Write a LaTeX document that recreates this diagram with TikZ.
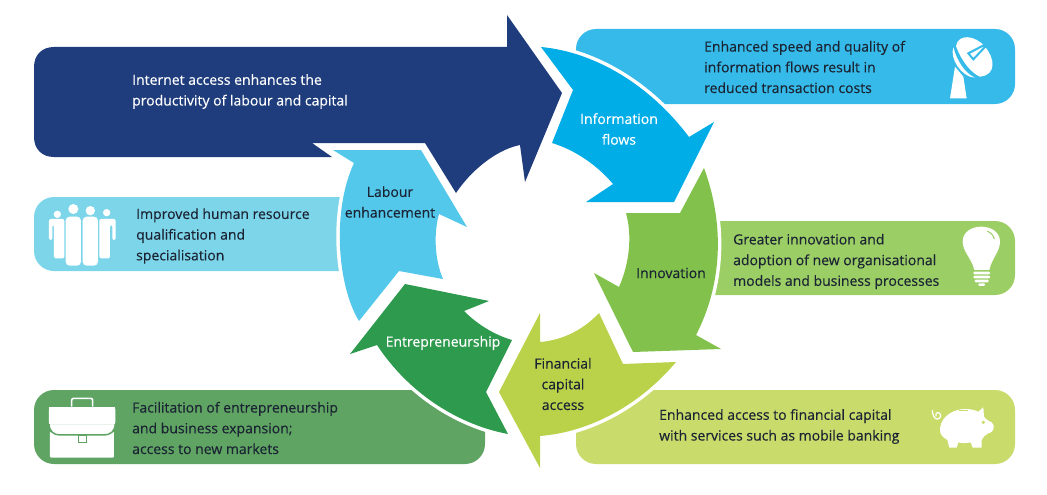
\documentclass[tikz,border=0pt]{standalone}
\usepackage{fontspec}
\newfontfamily\labelfont[FakeBold=0.3]{Open Sans}
\definecolor{capitalblue}{HTML}{1F3D7C}
\definecolor{infoarrow}{HTML}{00ADE6}
\definecolor{infobox}{HTML}{35BAE9}
\definecolor{innovarrow}{HTML}{82C24C}
\definecolor{innovbox}{HTML}{9CCE66}
\definecolor{finarrow}{HTML}{BAD24A}
\definecolor{finbox}{HTML}{C9DB6B}
\definecolor{entarrow}{HTML}{2E9A4E}
\definecolor{entbox}{HTML}{5FA463}
\definecolor{labarrow}{HTML}{53C8EB}
\definecolor{labbox}{HTML}{7DD5EA}
\definecolor{inkdark}{HTML}{1B2433}
\tikzset{
	wheelarrow/.style={preaction={draw=white, line width=7pt, line join=round}},
	panel/.style={rounded corners=20pt},
	paneltext/.style={anchor=west, align=left, text=inkdark, font=\labelfont\fontsize{14}{20.7}\selectfont, inner sep=0pt},
	wheeltext/.style={align=center, text=inkdark, font=\labelfont\fontsize{14}{20.7}\selectfont, inner sep=0pt},
	cropped/.style={x=0.3333pt, y=-0.3333pt},
}
\begin{document}
\begin{tikzpicture}[x=1pt, y=-1pt]
	\useasboundingbox (0,0) rectangle (1047,495);
	% panels behind the wheel
	\fill[infobox, panel] (576,29) rectangle (1015,104);
	\fill[innovbox, panel] (680,221) rectangle (1015,295);
	\fill[finbox, panel] (576,390) rectangle (1015,464);
	\fill[entbox, panel] (34,390) rectangle (485,464);
	\fill[labbox, panel] (34,197) rectangle (370,271);
	% wheel
	\fill[capitalblue, wheelarrow] (312,143) -- (332,157) -- (54,157) .. controls (42,157) and (34,149) .. (34,137) -- (34,67) .. controls (34,55) and (42,47) .. (54,47) -- (507,47) -- (507,15) -- (562,93) -- (525,182) -- (520,145) .. controls (495,150) and (470,172) .. (456,193) -- (425,143) -- cycle;
	\fill[labarrow, wheelarrow] (359,321) .. controls (337,285) and (332,210) .. (354,163) -- (333,150) -- (421,150) -- (467,227) -- (439,214) .. controls (434,232) and (434,258) .. (443,279) -- (399,271) -- cycle;
	\fill[infoarrow, wheelarrow] (541,47) .. controls (595,52) and (650,85) .. (689,137) -- (714,122) -- (674,202) -- (586,202) -- (613,184) .. controls (597,165) and (575,150) .. (552,143) -- (573,90) -- cycle;
	\fill[innovarrow, wheelarrow] (704,168) .. controls (725,225) and (722,285) .. (696,335) -- (721,349) -- (633,352) -- (594,273) -- (619,287) .. controls (630,262) and (632,235) .. (626,213) -- (680,213) -- cycle;
	\fill[finarrow, wheelarrow] (676,362) .. controls (640,405) and (590,432) .. (540,436) -- (540,468) -- (499,392) -- (540,313) -- (540,342) .. controls (565,340) and (585,328) .. (599,313) -- (623,364) -- cycle;
	\fill[entarrow, wheelarrow] (508,434) .. controls (460,425) and (410,395) .. (377,345) -- (350,354) -- (405,284) -- (489,301) -- (464,311) .. controls (478,325) and (495,335) .. (512,340) -- (486,392) -- cycle;
	% wheel labels
	\node[wheeltext, text=white] (infoflows) at (619,129) {Information\\flows};
	\node[wheeltext] (labour) at (390,202) {Labour\\enhancement};
	\node[wheeltext] (innovation) at (671,273) {Innovation};
	\node[wheeltext] (financial) at (563,384) {Financial\\capital\\access};
	\node[wheeltext, text=white] (entrepreneur) at (443,343) {Entrepreneurship};
	% panel texts
	\node[paneltext, text=white] (internet) at (132,91.5) {Internet access enhances the\\productivity of labour and capital};
	\node[paneltext] (infotext) at (704,67) {Enhanced speed and quality of\\information flows result in\\reduced transaction costs};
	\node[paneltext] (labtext) at (136,236) {Improved human resource\\qualification and\\specialisation};
	\node[paneltext] (innovtext) at (733,261.5) {Greater innovation and\\adoption of new organisational\\models and business processes};
	\node[paneltext] (fintext) at (659,426.5) {Enhanced access to financial capital\\with services such as mobile banking};
	\node[paneltext] (enttext) at (132,428) {Facilitation of entrepreneurship\\and business expansion;\\access to new markets};
	% dish
	\begin{scope}[shift={(900,20)}, cropped]
		\fill[white] (150,235) -- (200,235) -- (190,170) -- (165,140) -- cycle;
		\fill[white] (168,78) .. controls (175,40) and (225,45) .. (255,80) .. controls (285,115) and (290,165) .. (240,170) .. controls (215,160) and (185,125) .. cycle;
		\fill[white] (160,82) .. controls (148,115) and (185,172) .. (225,173) .. controls (195,160) and (172,125) .. cycle;
		\draw[infobox, line width=2pt, fill=white] (205,100) -- (268,67) -- (220,118) -- cycle;
	\end{scope}
	% bulb
	\begin{scope}[shift={(930,215)}, cropped]
		\fill[white] (133,165) .. controls (125,130) and (98,110) .. (98,80) .. controls (98,20) and (210,20) .. (210,80) .. controls (210,110) and (185,130) .. (178,165) -- cycle;
		\foreach \ya/\xa/\xb in {170/130/180, 182/130/180, 194/134/176, 205/145/165} {
			\fill[white, rounded corners=1pt] (\xa,\ya) rectangle (\xb,\ya+8);
		}
		\draw[innovbox, line width=1pt] (172,48) .. controls (182,52) and (190,60) .. (193,72);
	\end{scope}
	% piggy bank
	\begin{scope}[shift={(920,395)}, cropped]
		\fill[white] (60,100) .. controls (65,60) and (105,42) .. (135,42) .. controls (150,42) and (165,45) .. (175,50) -- (190,37) -- (192,65) .. controls (200,75) and (205,78) .. (215,82) .. controls (225,90) and (225,110) .. (205,115) .. controls (195,120) and (190,125) .. (185,135) -- (185,158) -- (158,158) -- (152,142) .. controls (140,145) and (125,145) .. (115,142) -- (110,158) -- (88,158) -- (82,135) .. controls (65,125) and (58,115) .. cycle;
		\draw[white, line width=1.2pt] (37,45) .. controls (38,60) and (42,72) .. (52,72) .. controls (62,72) and (65,60) .. (58,54) .. controls (50,50) and (44,58) .. (48,64);
		\draw[finbox, line width=1pt] (118,47) -- (145,47);
		\fill[finbox] (190,82) circle (1.8pt);
	\end{scope}
	% people
	\begin{scope}[shift={(30,195)}, cropped]
		\foreach \xc/\yc/\r in {82/58/11, 130/42/15, 181/47/14, 230/53/11} {
			\fill[white] (\xc,\yc) circle (\r*0.3333pt);
		}
		\fill[white, rounded corners=2pt] (57,135) -- (57,72) -- (103,72) -- (103,190) -- (72,190) -- (72,90) -- (67,90) -- (67,135) -- cycle;
		\fill[white, rounded corners=2pt] (257,135) -- (257,72) -- (208,72) -- (208,190) -- (240,190) -- (240,90) -- (247,90) -- (247,135) -- cycle;
		\foreach \xa/\xb in {107/153, 158/204} {
			\fill[white, rounded corners=4pt] (\xa,65) rectangle (\xb,212);
		}
	\end{scope}
	% briefcase
	\begin{scope}[shift={(30,385)}, cropped]
		\fill[white, rounded corners=1pt] (60,140) rectangle (252,218);
		\draw[white, line width=1.6pt, rounded corners=2pt] (125,66) -- (125,40) -- (188,40) -- (188,66);
		\draw[entbox, line width=1.2pt, fill=white, rounded corners=2pt] (57,67) -- (256,67) -- (256,120);
		\fill[white, rounded corners=2pt] (57,67) rectangle (256,125);
		\draw[entbox, line width=1.5pt, fill=white] (57,115) .. controls (57,138) and (70,150) .. (90,150) -- (222,150) .. controls (242,150) and (256,138) .. (256,115) -- cycle;
		\fill[white] (57,67) rectangle (256,118);
		\fill[white, draw=entbox, line width=0.8pt] (146,150) rectangle (168,171);
	\end{scope}
\end{tikzpicture}
\end{document}
